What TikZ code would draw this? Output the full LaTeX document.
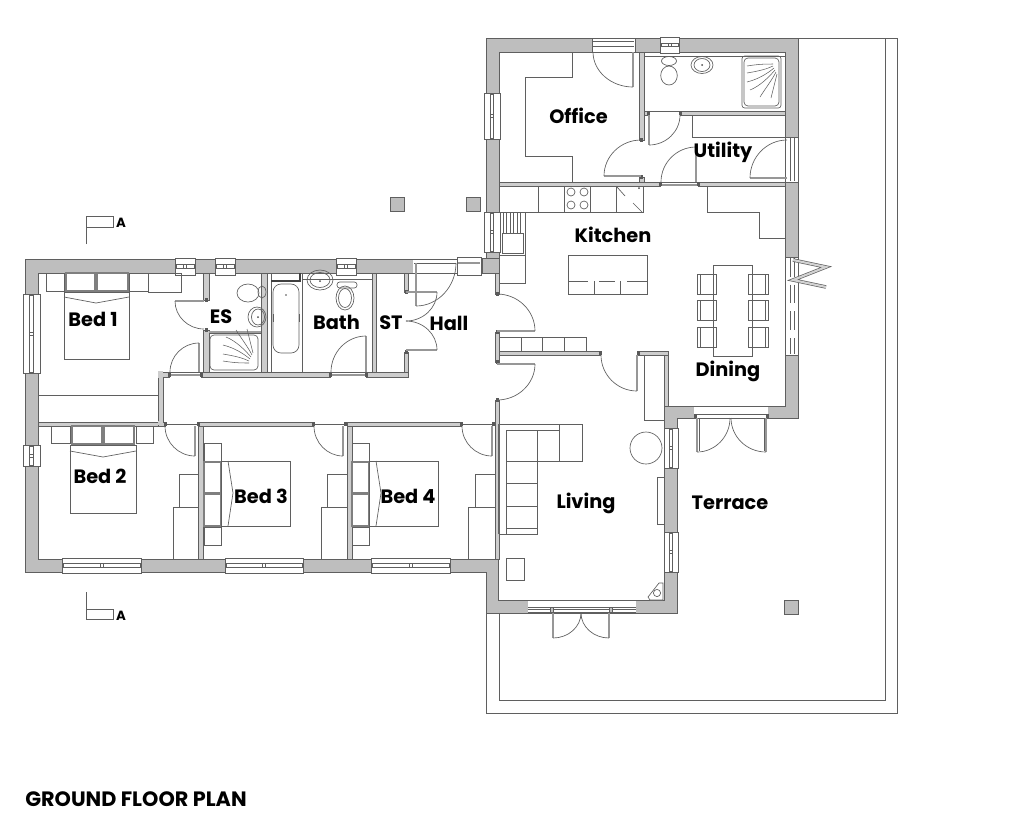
\documentclass[tikz,border=0pt]{standalone}
\usepackage{fontspec}
\setmainfont{Poppins}
\usetikzlibrary{calc}
\definecolor{wallgrey}{RGB}{190,190,190}
\definecolor{linegrey}{RGB}{95,95,95}
\definecolor{partgrey}{RGB}{205,205,205}
\tikzset{
  ln/.style={draw=linegrey,line width=0.5pt},
  heavy/.style={draw=black!75,line width=1.1pt},
  pillow/.style={draw=linegrey!80,line width=0.9pt},
  wallfill/.style={fill=wallgrey,draw=linegrey,line width=0.6pt},
  part/.style={fill=partgrey,draw=linegrey,line width=0.5pt},
  win/.style={fill=white,draw=linegrey,line width=0.45pt},
  leaf/.style={draw=linegrey!65,line width=1.2pt},
  lab/.style={anchor=base,font=\bfseries\fontsize{14.5pt}{16pt}\selectfont,inner sep=0pt,text=black},
  marklab/.style={anchor=base,font=\bfseries\fontsize{10pt}{11pt}\selectfont,inner sep=0pt,text=black}
}
\newcommand{\hwin}[4]{% x1 x2 ytop ybot
  \draw[win] (#1,#3) rectangle (#2,#4);
  \draw[ln,fill=white] (#1+1,{(#3+#4)/2-1.8}) rectangle (#2-1,{(#3+#4)/2+1.8});
  \draw[ln] ({(#1+#2)/2-1.5},{(#3+#4)/2-1.8}) -- ++(0,3.6) ({(#1+#2)/2+1.5},{(#3+#4)/2-1.8}) -- ++(0,3.6);}
\newcommand{\vwin}[4]{% y1 y2 xl xr
  \draw[win] (#3,#1) rectangle (#4,#2);
  \draw[ln,fill=white] ({(#3+#4)/2-1.8},#1+1) rectangle ({(#3+#4)/2+1.8},#2-1);
  \draw[ln] ({(#3+#4)/2-1.8},{(#1+#2)/2-1.5}) -- ++(3.6,0) ({(#3+#4)/2-1.8},{(#1+#2)/2+1.5}) -- ++(3.6,0);}
\newcommand{\door}[3]{% hinge, arc end on wall, leaf end
  \draw[leaf] (#1) -- (#3);
  \coordinate (cc) at ($(#2)+(#3)-(#1)$);
  \draw[ln] (#2) .. controls ($(#2)!.55!(cc)$) and ($(#3)!.55!(cc)$) .. (#3);}
\newcommand{\jamb}[2]{\fill[black!65] (#1-1.5,#2-2) rectangle (#1+1.5,#2+2);}
\newcommand{\pwall}[4]{\draw[part] (#1,#2) rectangle (#3,#4);}
\newcommand{\fan}[3]{% corner x, y, yscale sign
  \begin{scope}[shift={(#1,#2)},yscale=#3]
  \draw[ln,line width=0.4pt] (-30,4) .. controls (-18,2) and (-10,2) .. (-4,2);
  \draw[ln,line width=0.4pt] (-30,11) .. controls (-18,9) and (-10,7) .. (-4,4);
  \draw[ln,line width=0.4pt] (-30,20) .. controls (-18,17) and (-9,11) .. (-3,6);
  \draw[ln,line width=0.4pt] (-27,28) .. controls (-17,24) and (-8,15) .. (-2,8);
  \draw[ln,line width=0.4pt] (-17,35) .. controls (-12,27) and (-5,18) .. (-1,10);
  \draw[ln,line width=0.4pt] (-6,36) .. controls (-4,28) and (-2,20) .. (0,12);
  \end{scope}}
\begin{document}
\begin{tikzpicture}[x=0.75pt,y=-0.75pt]
\useasboundingbox (0,0) rectangle (1024,819);
\fill[white] (0,0) rectangle (1024,819);
% terrace outline
\draw[ln,line width=0.6pt] (798,38) -- (897,38) -- (897,713) -- (486,713) -- (486,613);
\draw[ln,line width=0.6pt] (885,38) -- (885,700) -- (499,700) -- (499,613);
% posts
\foreach \a/\b in {390/197,466/197,784/600}{\draw[wallfill] (\a,\b) rectangle (\a+14.5,\b+14);}
% section markers
\draw[ln] (86,244) -- (86,216) -- (113,216) -- (113,227) -- (86,227);
\node[marklab] (secA) at (121,227) {A};
\draw[ln] (86,592) -- (86,619) -- (113,619) -- (113,609) -- (86,609);
\node[marklab] (secB) at (121,620) {A};
% outer wall
\draw[wallfill,even odd rule]
 (486,38) -- (798,38) -- (798,418) -- (677,418) -- (677,613) -- (486,613) -- (486,572) -- (25,572) -- (25,259) -- (486,259) -- cycle
 (499,52) -- (785,52) -- (785,406) -- (664,406) -- (664,600) -- (498,600) -- (498,559) -- (38,559) -- (38,273) -- (499,273) -- cycle;
\draw[wallfill] (482,258) rectangle (499,273);
\fill[wallgrey] (483,259) rectangle (498,272);
% windows
\hwin{62}{141}{558}{573}
\hwin{225}{303}{558}{573}
\hwin{371}{450}{558}{573}
\hwin{175}{195}{258}{275}
\hwin{215}{235}{258}{275}
\hwin{336}{356}{258}{275}
\vwin{294}{373}{23}{40}
\vwin{445}{466}{23}{40}
\vwin{93}{139}{484}{500}
\vwin{212}{252}{484}{500}
\vwin{428}{468}{664}{678}
\vwin{532}{572}{664}{678}
% top windows
\draw[win] (592,38) rectangle (635,52);
\draw[ln] (593,41) -- (634,41) (593,46) -- (634,46);
\hwin{660}{679}{37}{53}
% back door opening, east wall
\draw[win] (785,137) rectangle (798,182);
\draw[ln] (790,138) -- (790,181) (794,138) -- (794,181);
% front entrance opening
\fill[white] (413,259.4) rectangle (482,272.6);
\draw[ln] (413,259) -- (482,259);
\draw[win] (457,257) rectangle (481,275);
\draw[leaf] (458,263) -- (480,263);
\draw[ln] (414,263) -- (456,263);
% dining south opening
\fill[white] (694,406.5) rectangle (768,417.5);
\draw[ln] (694,406) -- (768,406);
\draw[ln] (695,414) -- (767,414) (695,418) -- (767,418);
\jamb{695}{416}\jamb{767}{416}
% bifold opening, dining east
\draw[win] (785,257) rectangle (798,355);
\draw[ln,dashed,dash pattern=on 14pt off 6pt] (790,258) -- (790,354) (794,258) -- (794,354);
\draw[draw=linegrey,double=gray!35,double distance=1.6pt,line width=0.5pt,line join=miter] (793,260) -- (826,267) -- (793,280) -- (826,287);
% living south window
\fill[white] (528,600.5) rectangle (636,612.5);
\draw[ln] (528,600) -- (636,600) (528,607) -- (636,607) (528,612.5) -- (636,612.5) (528,609.5) -- (636,609.5);
\draw[ln,fill=gray!50] (550,607) rectangle (553,612);
\draw[ln,fill=gray!50] (609,607) rectangle (612,612);
% thin partitions
\pwall{495}{273}{499}{294}
\pwall{495}{332}{499}{362}
\pwall{495}{400}{499}{559}
\pwall{499}{351}{600}{355}
\pwall{638}{351}{668}{355}
\pwall{664}{355}{668}{406}
\pwall{499}{182}{660}{186}
\pwall{698}{182}{785}{186}
\draw[ln] (660,182) -- (698,182);
\draw[leaf] (660,185) -- (698,185);
\pwall{639}{52}{644}{140}
\pwall{639}{177}{644}{182}
\pwall{680}{111}{785}{115}
\pwall{644}{111}{648}{115}
\draw[ln] (648,111) -- (680,111);
\draw[ln] (644,56) -- (785,56);
% bedroom side
\pwall{203}{273}{209}{300}
\pwall{203}{330}{209}{372}
\pwall{158}{372}{169}{377}
\pwall{201}{372}{330}{377}
\pwall{366}{372}{408}{377}
\draw[leaf] (169,375) -- (201,375);
\draw[ln] (169,372) -- (201,372);
\draw[leaf] (330,375) -- (366,375);
\draw[ln] (330,372) -- (366,372);
\pwall{158}{377}{163}{426}
\fill[partgrey] (158.4,371) rectangle (162.6,378);
\pwall{38}{422}{158}{426}
\pwall{158}{422}{165}{426}
\fill[partgrey] (158.4,421) rectangle (162.6,425);
\draw[ln] (165,424) -- (198,424);
\pwall{198}{422}{313}{426}
\pwall{198}{426}{203}{559}
\draw[ln] (313,424) -- (347,424);
\pwall{347}{422}{461}{426}
\pwall{347}{426}{352}{559}
\draw[ln] (461,424) -- (495,424);
\pwall{261}{273}{267}{372}
\draw[ln] (271,273) -- (271,372) (302,273) -- (302,372) (302,279) -- (372,279);
\pwall{372}{273}{376}{372}
\pwall{404}{273}{408}{292}
\pwall{404}{352}{408}{372}
\draw[ln] (209,333) -- (261,333);
\draw[ln,draw=linegrey!60,line width=1pt] (209,332) -- (261,332);
\foreach \a/\b in {497/294,497/332,497/362,497/400,600/353,638/353,660/184,698/184,641/140,641/177,648/113,680/113,206/300,206/330,169/374.5,201/374.5,330/374.5,366/374.5,165/424,198/424,313/424,345/424,461/424,493/424,406/292,406/352}{\jamb{\a}{\b}}
% doors
\door{633,52}{593,52}{633,87}
\door{641,176}{641,140}{604,176}
\door{649,115}{680,115}{649,145}
\door{696,182}{661,182}{696,147}
\door{787,178}{787,140}{750,178}
\door{497,331}{497,294}{535,331}
\door{497,364}{497,400}{535,364}
\door{637,355}{601,355}{637,391}
\door{204,301}{204,329}{175,301}
\door{199,372}{170,372}{199,343}
\door{195,426}{165,426}{195,456}
\door{343,426}{314,426}{343,456}
\door{492,426}{462,426}{492,456}
\door{366,372}{331,372}{366,336}
\door{406,292}{406,321}{437,292}
\door{406,350}{406,321}{437,350}
\door{416,263}{456,263}{416,306}
% dining doors
\draw[ln] (699,418) -- (699,451);
\door{697,418}{730,418}{697,452}
\draw[ln] (764,418) -- (764,451);
\door{766,418}{731,418}{766,452}
% french doors, living
\door{553,613}{581,613}{553,638}
\door{609,613}{581,613}{609,638}
% office desk
\draw[ln] (572,52) -- (572,77) -- (525,77) -- (525,156) -- (572,156) -- (572,182);
% WC upstairs
\draw[ln] (669,75.5) ellipse (8.3 and 9.5);
\draw[ln] (669,61) ellipse (7.5 and 4.5);
\draw[ln] (702,65) ellipse (11 and 8.5);
\draw[ln] (702,65) ellipse (8 and 6.5);
\fill[black!70] (702,65) circle (1);
\draw[ln,rounded corners=2pt] (742,56) rectangle (781,108);
\draw[ln,rounded corners=3pt] (744,58) rectangle (779,106);
\fan{777}{62}{1}
% utility counter
\draw[ln] (692,115) -- (692,137) -- (785,137);
% kitchen units
\draw[ln] (499,212) -- (643,212) -- (643,186);
\draw[ln] (538,186) -- (538,212) (564,186) -- (564,212) (590,186) -- (590,212) (616,186) -- (616,212);
\foreach \a/\b in {571/192,584/192,571/205,584/205}{\draw[ln] (\a,\b) circle (4);}
\draw[ln] (617,187) -- (625,196) (633,203) -- (642,212);
\fill[black!70] (639,188) circle (1);
\draw[ln] (525,212) -- (525,283) -- (499,283);
\draw[ln] (499,255) -- (525,255);
\draw[ln] (502,233) rectangle (523,253);
\foreach \a in {503,506.5,510,513.5,517,520.5}{\draw[ln,line width=0.4pt] (\a,213) -- (\a,233);}
\draw[ln] (568,255) rectangle (647,294);
\draw[ln] (568,281) -- (588,281) (599,281) -- (615,281) (627,281) -- (647,281);
\draw[ln] (594,281) -- (594,294) (620,281) -- (620,294);
\draw[ln] (499,337) -- (586,337) -- (586,351);
\draw[ln] (521,337) -- (521,351) (542,337) -- (542,351) (564,337) -- (564,351);
\draw[ln] (707,186) -- (707,212) -- (759,212) -- (759,238) -- (785,238);
% dining table
\foreach \b in {274,300,327}{
 \draw[ln,fill=white] (697,\b) rectangle (716,\b+20);
 \draw[ln] (700,\b) -- (700,\b+20);
 \draw[ln,fill=white] (748,\b) rectangle (768,\b+20);
 \draw[ln] (765,\b) -- (765,\b+20);}
\draw[ln] (713,265) rectangle (752,356);
% living
\draw[ln] (499,424) -- (582,424) -- (582,461) -- (537,461) -- (537,534) -- (499,534);
\draw[heavy,draw=black!60] (499,424) -- (499,534);
\draw[ln] (506,534) -- (506,430) -- (559,430);
\draw[ln] (559,424) -- (559,461) (537,430) -- (537,461);
\draw[ln] (506,461) -- (537,461) (506,483) -- (537,483) (506,506) -- (537,506) (506,528) -- (537,528);
\draw[ln] (506,558) rectangle (524,580);
\draw[ln] (646,448) circle (16);
\draw[ln,fill=white] (657,477) rectangle (664,524);
\draw[ln] (644,355) -- (644,420) -- (664,420);
\draw[ln,fill=white] (648,597) -- (659,583) -- (663,583) -- (663,600) -- (650,600) -- cycle;
\draw[ln] (657,593) circle (3.6);
% Bed 1
\draw[ln] (46,273) rectangle (64,291);
\draw[ln] (129,273) rectangle (148,291);
\draw[ln] (148,273) rectangle (181,292);
\draw[pillow] (66,273) rectangle (95,291);
\draw[pillow] (97,273) rectangle (128,291);
\draw[ln] (64,292) rectangle (129,359);
\draw[ln] (64,297) -- (96,303) -- (129,297);
\draw[ln] (38,395) -- (158,395);
% ES fittings
\draw[ln,rounded corners=3pt] (210,335) rectangle (258,370);
\fan{253}{365}{-1}
\draw[ln] (248,293) ellipse (11 and 9);
\draw[ln] (262,292) ellipse (4 and 6);
\draw[ln] (257,317) ellipse (9 and 10);
\draw[ln] (258,317) ellipse (6.5 and 8);
\fill[black!70] (258,317) circle (1);
% bath
\draw[heavy] (271,281) -- (300,281) -- (300,273);
\draw[ln,rounded corners=6pt] (273,284) rectangle (299,353);
\draw[ln] (273,314) -- (273,322) (299,314) -- (299,322);
\fill[black!70] (286,295) circle (0.8);
% bath room fittings
\draw[ln] (320,280) ellipse (13 and 10);
\draw[ln] (320,280) ellipse (10 and 7.5);
\fill[black!70] (320,281) circle (1);
\draw[ln,rounded corners=2pt] (337,282) rectangle (357,288);
\draw[ln] (345,298) ellipse (9 and 12);
\draw[ln] (345,298) ellipse (6.5 and 9.5);
% Bed 2
\draw[ln] (51,426) rectangle (70,443);
\draw[ln] (136,426) rectangle (153,443);
\draw[pillow] (72,426) rectangle (102,444);
\draw[pillow] (104,426) rectangle (134,444);
\draw[ln] (70,445) rectangle (136,513);
\draw[ln] (70,451) -- (103,457) -- (136,451);
\draw[ln] (179,474) rectangle (198,507);
\draw[ln] (173,507) rectangle (198,559);
% Bed 3
\draw[ln] (204,443) rectangle (221,461);
\draw[ln] (204,527) rectangle (221,545);
\draw[pillow] (204,462) rectangle (221,493);
\draw[pillow] (204,494) rectangle (221,526);
\draw[ln] (221,461) rectangle (290,526);
\draw[ln] (228,461) -- (233,493) -- (228,526);
\draw[ln] (327,474) rectangle (347,507);
\draw[ln] (321,507) rectangle (347,559);
% Bed 4
\draw[ln] (352,443) rectangle (369,461);
\draw[ln] (352,527) rectangle (369,545);
\draw[pillow] (352,462) rectangle (369,493);
\draw[pillow] (352,494) rectangle (369,526);
\draw[ln] (369,461) rectangle (438,526);
\draw[ln] (376,461) -- (381,493) -- (376,526);
\draw[ln] (475,474) rectangle (495,507);
\draw[ln] (468,507) rectangle (495,559);
% labels
\node[lab] (office) at (578.5,123) {Office};
\node[lab] (utility) at (723,157) {Utility};
\node[lab] (kitchen) at (613,242) {Kitchen};
\node[lab] (dining) at (728,376) {Dining};
\node[lab] (living) at (586,508) {Living};
\node[lab] (terrace) at (730,509) {Terrace};
\node[lab] (bedone) at (93,326) {Bed 1};
\node[lab] (es) at (221,323) {ES};
\node[lab] (bath) at (336.5,329) {Bath};
\node[lab] (st) at (391,329) {ST};
\node[lab] (hall) at (449,330) {Hall};
\node[lab] (bedtwo) at (100,483) {Bed 2};
\node[lab] (bedthree) at (261,503) {Bed 3};
\node[lab] (bedfour) at (408,503) {Bed 4};
\node[lab,anchor=base west,font=\bfseries\fontsize{15.6pt}{17pt}\selectfont] (title) at (25,806) {GROUND FLOOR PLAN};
\end{tikzpicture}
\end{document}
